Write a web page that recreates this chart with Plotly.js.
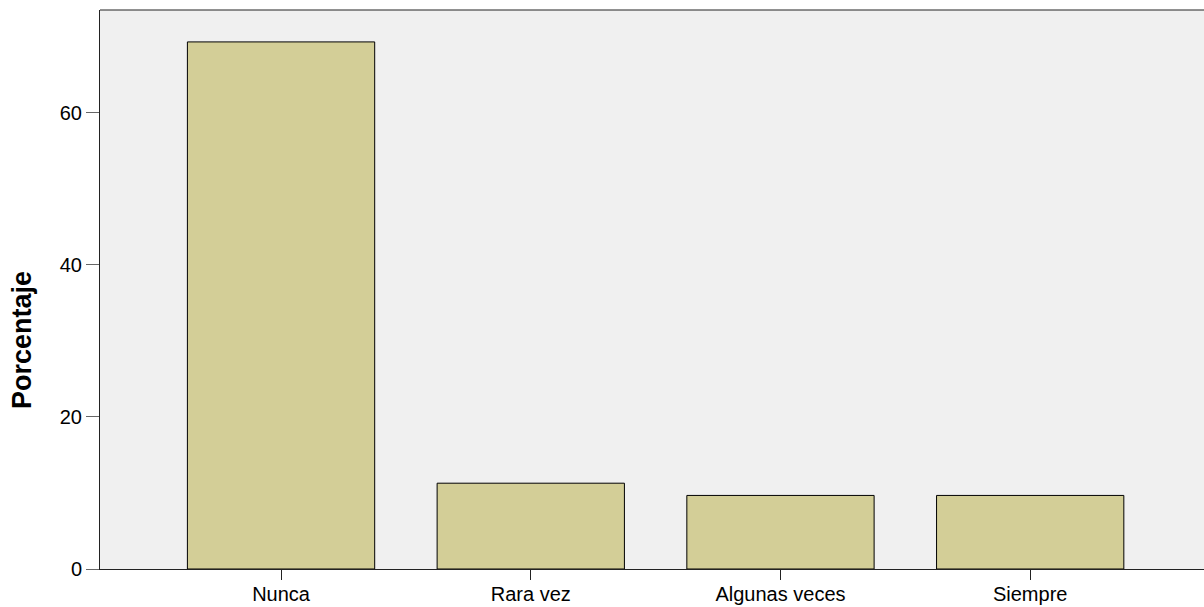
<!DOCTYPE html>
<html><head><meta charset="utf-8">
<script src="https://cdn.plot.ly/plotly-3.0.1.min.js"></script>
<style>html,body{margin:0;padding:0;background:#fff}</style>
</head><body>
<div id="chart" style="width:1204px;height:607px"></div>
<script>
const categories = ["Nunca", "Rara vez", "Algunas veces", "Siempre"];
const percentages = [69.35, 11.29, 9.68, 9.68];
const yTicks = [0, 20, 40, 60];
const yTitle = "Porcentaje";

const trace = {
  type: "bar",
  x: categories,
  y: percentages,
  width: 0.75,
  marker: {color: "#d3ce97", line: {color: "#000000", width: 1}},
  hoverinfo: "skip"
};

const layout = {
  width: 1204, height: 607,
  margin: {l: 100, r: 0, t: 10, b: 38},
  paper_bgcolor: "#ffffff",
  plot_bgcolor: "#f0f0f0",
  font: {family: "Liberation Sans, Arial, sans-serif", size: 20, color: "#000"},
  showlegend: false,
  xaxis: {
    type: "category",
    range: [-0.725, 3.696],
    showgrid: false, zeroline: false,
    showline: true, linecolor: "#222", linewidth: 1,
    ticks: "outside", ticklen: 10, tickcolor: "#222", tickwidth: 1,
    ticklabelstandoff: -3,
    tickfont: {size: 20}
  },
  yaxis: {
    range: [0, 73.55],
    tickvals: yTicks,
    showgrid: false, zeroline: false,
    showline: true, linecolor: "#222", linewidth: 1,
    ticks: "outside", ticklen: 13, tickcolor: "#666", tickwidth: 1,
    tickfont: {size: 20}
  },
  annotations: [
    {text: yTitle, textangle: -90, showarrow: false,
     xref: "paper", yref: "paper", x: 0, y: 0.4097, xshift: -78,
     xanchor: "center", yanchor: "middle",
     font: {size: 27, weight: "bold", color: "#000"}}
  ],
  shapes: [
    {type: "line", xref: "paper", yref: "paper", x0: 0, x1: 1, y0: 1, y1: 1,
     line: {color: "#222", width: 1}}
  ]
};

Plotly.newPlot("chart", [trace], layout, {displayModeBar: false, staticPlot: true});
</script>
</body></html>
